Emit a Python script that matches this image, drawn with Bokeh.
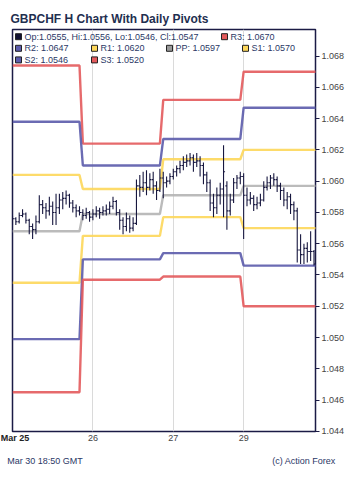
from bokeh.plotting import figure
from bokeh.models import (Range1d, FixedTicker, SingleIntervalTicker, NumeralTickFormatter,
                          Label, BoxAnnotation, ColumnDataSource, LinearAxis)
from bokeh.embed import file_html
from bokeh.resources import INLINE

# ---------------- data ----------------
title_text = "GBPCHF H Chart With Daily Pivots"
footer_left = "Mar 30 18:50 GMT"
footer_right = "(c) Action Forex"

x_tick_pos = [0, 24, 48, 69]
x_tick_labels = ["Mar 25", "26", "27", "29"]

opens = [1.0574, 1.0576, 1.0574, 1.0578, 1.0579, 1.0575, 1.0571, 1.0569, 1.0574, 1.0585,
         1.0583, 1.0581, 1.0584, 1.0580, 1.0583, 1.0588, 1.0589, 1.0591, 1.0586, 1.0583,
         1.0581, 1.0580, 1.0578, 1.0580, 1.0577, 1.0579, 1.0581, 1.0580, 1.0581, 1.0582,
         1.0584, 1.0587, 1.0580, 1.0575, 1.0571, 1.0576, 1.0570, 1.0573, 1.0597, 1.0596,
         1.0599, 1.0596, 1.0601, 1.0597, 1.0594, 1.0602, 1.0599, 1.0600, 1.0603, 1.0606,
         1.0608, 1.0610, 1.0612, 1.0613, 1.0615, 1.0612, 1.0613, 1.0610, 1.0604, 1.0599,
         1.0586, 1.0583, 1.0591, 1.0595, 1.0597, 1.0581, 1.0588, 1.0599, 1.0602, 1.0603,
         1.0591, 1.0588, 1.0589, 1.0585, 1.0586, 1.0588, 1.0596, 1.0599, 1.0602, 1.0601,
         1.0597, 1.0594, 1.0588, 1.0590, 1.0585, 1.0581, 1.0556, 1.0553, 1.0557, 1.0555,
         1.0555]
highs = [1.0578, 1.0577, 1.0580, 1.0582, 1.0580, 1.0576, 1.0573, 1.0578, 1.0591, 1.0588,
         1.0586, 1.0590, 1.0587, 1.0592, 1.0592, 1.0593, 1.0594, 1.0592, 1.0588, 1.0585,
         1.0584, 1.0582, 1.0583, 1.0581, 1.0582, 1.0584, 1.0583, 1.0584, 1.0585, 1.0587,
         1.0590, 1.0588, 1.0582, 1.0577, 1.0580, 1.0578, 1.0577, 1.0601, 1.0604, 1.0606,
         1.0607, 1.0605, 1.0606, 1.0600, 1.0608, 1.0606, 1.0603, 1.0605, 1.0608, 1.0610,
         1.0613, 1.0616, 1.0617, 1.0618, 1.0617, 1.0618, 1.0616, 1.0612, 1.0606, 1.0601,
         1.0592, 1.0596, 1.0599, 1.0623, 1.0600, 1.0592, 1.0602, 1.0604, 1.0606, 1.0605,
         1.0596, 1.0593, 1.0591, 1.0590, 1.0592, 1.0600, 1.0603, 1.0604, 1.0605, 1.0603,
         1.0599, 1.0596, 1.0593, 1.0592, 1.0587, 1.0583, 1.0566, 1.0560, 1.0561, 1.0568,
         1.0556]
lows = [1.0572, 1.0572, 1.0573, 1.0577, 1.0573, 1.0566, 1.0563, 1.0566, 1.0573, 1.0579,
        1.0576, 1.0578, 1.0572, 1.0572, 1.0579, 1.0582, 1.0585, 1.0583, 1.0580, 1.0577,
        1.0578, 1.0575, 1.0576, 1.0574, 1.0575, 1.0577, 1.0576, 1.0578, 1.0578, 1.0579,
        1.0582, 1.0578, 1.0569, 1.0566, 1.0568, 1.0567, 1.0568, 1.0572, 1.0590, 1.0593,
        1.0591, 1.0594, 1.0592, 1.0588, 1.0593, 1.0589, 1.0596, 1.0598, 1.0601, 1.0603,
        1.0605, 1.0607, 1.0609, 1.0610, 1.0606, 1.0609, 1.0603, 1.0598, 1.0593, 1.0581,
        1.0577, 1.0579, 1.0585, 1.0577, 1.0569, 1.0578, 1.0586, 1.0595, 1.0598, 1.0563,
        1.0584, 1.0585, 1.0581, 1.0582, 1.0584, 1.0587, 1.0594, 1.0595, 1.0597, 1.0593,
        1.0588, 1.0584, 1.0582, 1.0579, 1.0575, 1.0548, 1.0547, 1.0547, 1.0548, 1.0549,
        1.0546]
closes = [1.0576, 1.0574, 1.0578, 1.0579, 1.0575, 1.0571, 1.0569, 1.0574, 1.0585, 1.0583,
          1.0581, 1.0584, 1.0580, 1.0583, 1.0588, 1.0589, 1.0591, 1.0586, 1.0583, 1.0581,
          1.0580, 1.0578, 1.0580, 1.0577, 1.0579, 1.0581, 1.0580, 1.0581, 1.0582, 1.0584,
          1.0587, 1.0580, 1.0575, 1.0571, 1.0576, 1.0570, 1.0573, 1.0597, 1.0596, 1.0599,
          1.0596, 1.0601, 1.0597, 1.0594, 1.0602, 1.0599, 1.0600, 1.0603, 1.0606, 1.0608,
          1.0610, 1.0612, 1.0613, 1.0615, 1.0612, 1.0613, 1.0610, 1.0604, 1.0599, 1.0586,
          1.0583, 1.0591, 1.0595, 1.0606, 1.0581, 1.0588, 1.0599, 1.0602, 1.0603, 1.0591,
          1.0588, 1.0589, 1.0585, 1.0586, 1.0588, 1.0596, 1.0599, 1.0602, 1.0601, 1.0597,
          1.0594, 1.0588, 1.0590, 1.0585, 1.0581, 1.0556, 1.0553, 1.0557, 1.0555, 1.0555,
          1.0547]

# first bar index of each pivot day
pivot_day_start = [0, 21, 45, 69]
pivot_names = ["R3", "R2", "R1", "PP", "S1", "S2", "S3"]
R3 = [1.0674, 1.0624, 1.0652, 1.0670]
R2 = [1.0638, 1.0610, 1.0627, 1.0647]
R1 = [1.0604, 1.0595, 1.0614, 1.0620]
PP = [1.0568, 1.0579, 1.0591, 1.0597]
S1 = [1.0535, 1.0565, 1.0577, 1.0570]
S2 = [1.0499, 1.0550, 1.0554, 1.0546]
S3 = [1.0465, 1.0537, 1.0539, 1.0520]
pivot_levels = [R3, R2, R1, PP, S1, S2, S3]

# ---------------- styles ----------------
RED = "#e35a5c"
BLUE = "#5b5bab"
YELLOW = "#fdd75a"
GRAY = "#b4b4b4"
BAR = "#17173f"
NAVY = "#1b1b45"
TXT = "#2b3866"
FONT = "Liberation Sans"
pivot_colors = {"R3": RED, "R2": BLUE, "R1": YELLOW, "PP": GRAY,
                "S1": YELLOW, "S2": BLUE, "S3": RED}

X_END = 90.45
FL, FR, FB = 12, 315, 431

n = len(closes)
p = figure(width=350, height=481, output_backend="svg", toolbar_location=None,
           title=title_text, y_axis_location="right",
           x_range=Range1d(0, X_END), y_range=Range1d(1.04399, 1.0697),
           min_border_left=12, min_border_right=35, min_border_top=29, min_border_bottom=50)
p.background_fill_color = "white"
p.border_fill_color = "white"
p.outline_line_color = NAVY
p.outline_line_width = 1.5

# title
p.title.align = "left"
p.title.offset = -2
p.title.standoff = 8
p.title.text_font = FONT
p.title.text_font_size = "12px"
p.title.text_font_style = "bold"
p.title.text_color = "#1f2f50"

# grid
p.ygrid.grid_line_color = None
p.xgrid.ticker = FixedTicker(ticks=x_tick_pos)
p.xgrid.grid_line_color = "#dadada"
p.xgrid.grid_line_width = 1

def style_x(ax, bold=False):
    ax.axis_line_color = None
    ax.major_tick_line_color = None
    ax.minor_tick_line_color = None
    ax.major_tick_out = 0
    ax.major_tick_in = 0
    ax.minor_tick_out = 0
    ax.minor_tick_in = 0
    ax.major_label_text_font = FONT
    ax.major_label_text_font_size = "9px"
    ax.major_label_text_font_style = "bold" if bold else "normal"

# x axis: day labels
xa = p.xaxis[0]
xa.ticker = FixedTicker(ticks=x_tick_pos[1:])
xa.major_label_overrides = {t: l for t, l in zip(x_tick_pos[1:], x_tick_labels[1:])}
style_x(xa)
xa.major_label_text_color = "#444444"
xa.major_label_standoff = 3

# bold first label, overlaid on the same row
def canvas_to_x(cx):
    return (cx - FL) / (FR - FL) * X_END

first_pos = canvas_to_x(14.5)
xb = LinearAxis(ticker=FixedTicker(ticks=[first_pos]),
                major_label_overrides={first_pos: x_tick_labels[0]})
style_x(xb, bold=True)
xb.major_label_text_color = "#222222"
xb.major_label_standoff = -11
p.add_layout(xb, "below")

# footer texts
fl_pos = canvas_to_x(44.5)
fr_pos = canvas_to_x(303.5)
xc = LinearAxis(ticker=FixedTicker(ticks=[fl_pos, fr_pos]),
                major_label_overrides={fl_pos: footer_left, fr_pos: footer_right})
style_x(xc)
xc.major_label_text_color = TXT
xc.major_label_standoff = 10
p.add_layout(xc, "below")

# y axis
p.yaxis.ticker = SingleIntervalTicker(interval=0.002, num_minor_ticks=0)
p.yaxis.formatter = NumeralTickFormatter(format="0.000")
p.yaxis.axis_line_color = None
p.yaxis.major_tick_out = 4
p.yaxis.major_tick_in = 0
p.yaxis.major_tick_line_color = NAVY
p.yaxis.minor_tick_line_color = None
p.yaxis.major_label_text_font = FONT
p.yaxis.major_label_text_font_size = "9px"
p.yaxis.major_label_text_color = "#444444"
p.yaxis.major_label_standoff = 2

# pivot lines
for name, levels in zip(pivot_names, pivot_levels):
    xs, ys = [], []
    for d, lev in enumerate(levels):
        s = pivot_day_start[d]
        e = pivot_day_start[d + 1] - 1 if d + 1 < len(pivot_day_start) else n
        xs += [s, e]
        ys += [lev, lev]
    p.line(xs, ys, line_color=pivot_colors[name], line_width=2.4, line_alpha=0.9)

# OHLC bars
idx = list(range(n))
src = ColumnDataSource(dict(
    x=idx, xl=[i - 0.45 for i in idx], xr=[i + 0.45 for i in idx],
    o=opens, h=highs, l=lows, c=closes))
p.segment(x0="x", y0="l", x1="x", y1="h", source=src, line_color=BAR, line_width=1.1)
p.segment(x0="xl", y0="o", x1="x", y1="o", source=src, line_color=BAR, line_width=1.1)
p.segment(x0="x", y0="c", x1="xr", y1="c", source=src, line_color=BAR, line_width=1.1)

# ---------------- legend (screen units relative to frame) ----------------
def sx(cx):
    return cx - FL
def sy(cy):
    return FB - cy

lv = {name: levels[-1] for name, levels in zip(pivot_names, pivot_levels)}
ohlc_text = "Op:%.4f, Hi:%.4f, Lo:%.4f, Cl:%.4f" % (opens[-1], highs[-1], lows[-1], closes[-1])
legend_items = [
    (ohlc_text, "#111133", 15, 36.2),
    ("R3: %.4f" % lv["R3"], RED, 221, 36.2),
    ("R2: %.4f" % lv["R2"], BLUE, 15, 47.8),
    ("R1: %.4f" % lv["R1"], YELLOW, 91, 47.8),
    ("PP: %.4f" % lv["PP"], "#999999", 166, 47.8),
    ("S1: %.4f" % lv["S1"], YELLOW, 242, 47.8),
    ("S2: %.4f" % lv["S2"], BLUE, 15, 59.4),
    ("S3: %.4f" % lv["S3"], RED, 91, 59.4),
]
for text, col, cx, cy in legend_items:
    p.add_layout(BoxAnnotation(left=sx(cx), right=sx(cx + 6), top=sy(cy - 3), bottom=sy(cy + 3),
                               left_units="screen", right_units="screen",
                               top_units="screen", bottom_units="screen",
                               fill_color=col, fill_alpha=1.0, line_color="#222222",
                               line_width=1, line_alpha=1.0))
    p.add_layout(Label(x=sx(cx + 9), y=sy(cy), x_units="screen", y_units="screen", text=text,
                       text_font=FONT, text_font_size="9px", text_color=TXT,
                       text_baseline="middle", text_align="left"))

open("out.html", "w").write(file_html(p, INLINE))
